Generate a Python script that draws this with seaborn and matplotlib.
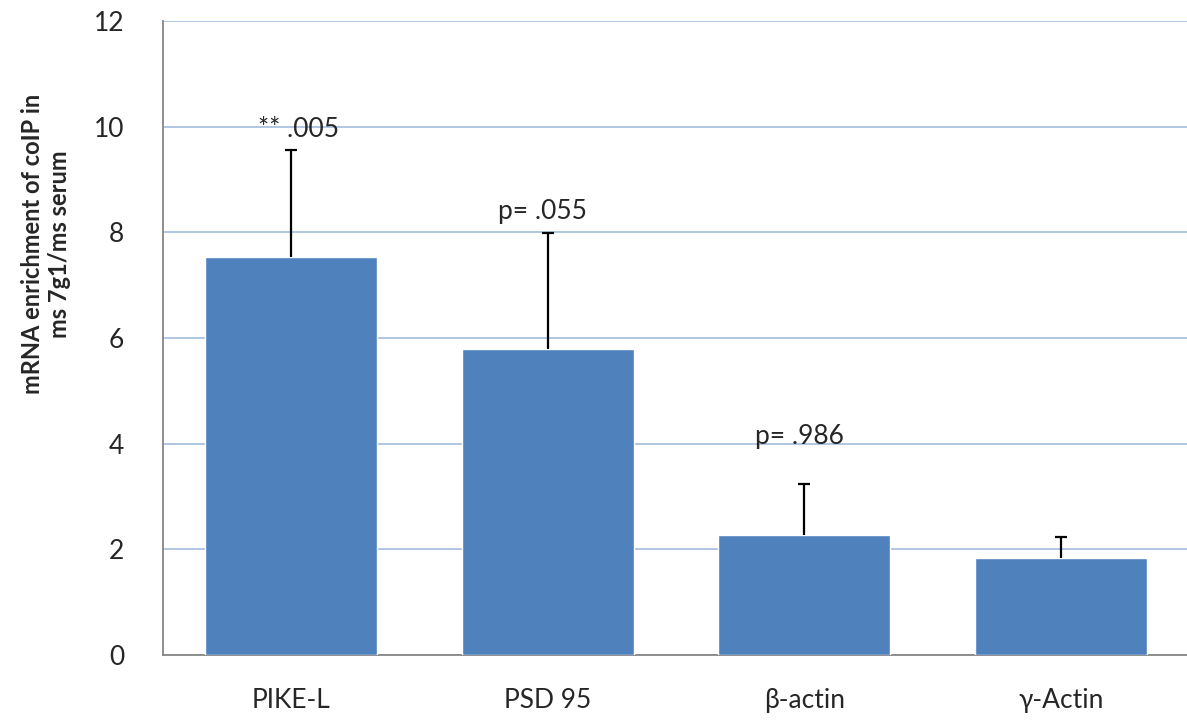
import matplotlib
matplotlib.use("Agg")
import matplotlib.pyplot as plt
import seaborn as sns
import pandas as pd

# Data
genes = ["PIKE-L", "PSD 95", "β-actin", "γ-Actin"]
enrichment = [7.53, 5.79, 2.27, 1.84]
err_upper = [2.03, 2.20, 0.97, 0.39]
p_labels = ["** .005", "p= .055", "p= .986", ""]
p_label_y = [9.94, 8.39, 4.13, 0]

df = pd.DataFrame({"gene": genes, "value": enrichment})

sns.set_style("white")
plt.rcParams["font.family"] = ["Lato", "DejaVu Sans"]

fig = plt.figure(figsize=(11.87, 7.24), dpi=100)
ax = fig.add_axes([163 / 1187, 69 / 724, 1026 / 1187, 634 / 724])

sns.barplot(data=df, x="gene", y="value", color="#4F81BD", saturation=1,
            width=0.67, ax=ax, zorder=3)

_, caps, _ = ax.errorbar(range(len(genes)), enrichment,
                         yerr=[[0] * len(genes), err_upper],
                         fmt="none", ecolor="black", elinewidth=1.6,
                         capsize=4, capthick=1.6, zorder=4)
caps[0].set_visible(False)  # only the upper cap

for i, (lab, y) in enumerate(zip(p_labels, p_label_y)):
    if lab:
        ax.text(i + 0.03 if i == 0 else i - 0.02, y, lab, ha="center",
                va="center", fontsize=19, zorder=5)

ax.set_ylim(0, 12)
ax.set_yticks(range(0, 13, 2))
ax.set_xlim(-0.5, 3.5)
ax.yaxis.grid(True, color="#A9C1DF", linewidth=1.3, zorder=0)
ax.set_axisbelow(True)
for s in ["top", "right"]:
    ax.spines[s].set_visible(False)
for s in ["left", "bottom"]:
    ax.spines[s].set_color("#868686")
    ax.spines[s].set_linewidth(1.3)
ax.tick_params(axis="both", length=0, labelsize=19)
ax.tick_params(axis="y", pad=28)
ax.tick_params(axis="x", pad=24)
ax.set_xlabel("")
ax.set_ylabel("mRNA enrichment of coIP in\nms 7g1/ms serum", fontsize=17,
              fontweight="bold", va="center", ha="center")
ax.yaxis.set_label_coords(-0.114, 0.648)

fig.savefig("out.png", dpi=100)
